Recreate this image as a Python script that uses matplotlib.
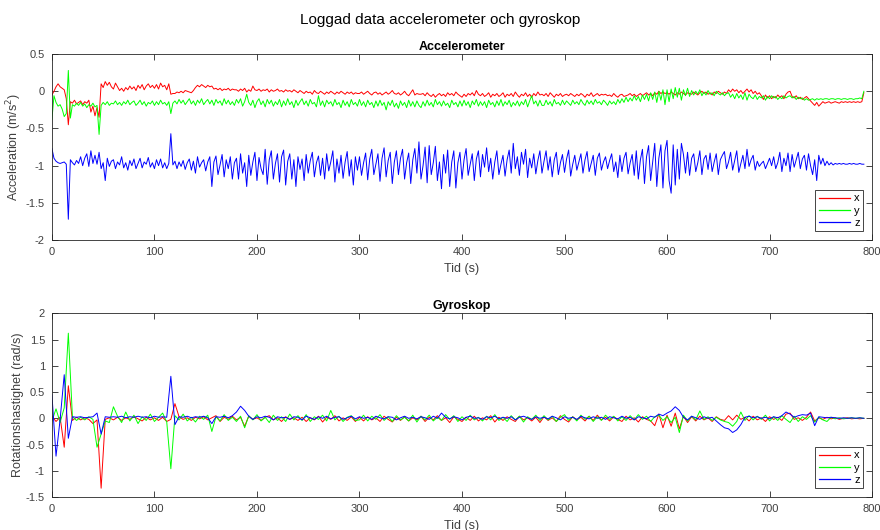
import matplotlib
matplotlib.use("Agg")
import matplotlib.pyplot as plt
from matplotlib.lines import Line2D
import numpy as np

plt.rcParams['font.family'] = ['Liberation Sans', 'DejaVu Sans']

# time grids (s)
t_acc = np.arange(0, 793, 2)
t_gyr = np.arange(0, 793, 4)

# accelerometer, hundredths of m/s^2 (one row = 60 s)
acc_x = [
    -5, 0, 6, 10, 6, 4, 2, -10, -45, -14, -16, -12, -17, -15, -13, -18, -14, -16, -12, -28, -20, -33, -22, -35, 10, 5, 13, 8, 12, 6,
    3, 11, 6, 1, 4, 0, 5, 2, 7, 3, 6, 1, 8, 4, 9, 2, 7, 10, 5, 8, 4, 9, 3, 11, 6, 8, 2, 10, -4, -3,
    -3, -1, -2, 0, -2, 1, 0, -1, -2, 1, 5, 8, 6, 9, 7, 5, 8, 6, 7, 3, 4, 2, 4, 1, 3, 2, 4, 1, 3, 2,
    2, 0, 3, 1, 4, -1, 2, 0, 7, 2, 1, 3, 0, 2, 1, 3, -1, 2, 0, 1, 3, 0, 1, -1, 2, 0, 1, -1, 2, 0,
    -2, 1, -1, -3, 0, -2, -1, -4, 1, -2, -3, 0, -2, -4, -1, -3, 0, -2, -4, -1, -3, 0, -2, -4, -1, -3, -1, -4, -2, -3,
    -3, -1, -4, -2, 0, -3, -5, -2, -1, -4, -2, -5, -3, -1, -4, -2, 1, -3, -4, -2, -5, -3, 0, -4, -6, -2, 2, -5, -3, -4,
    -4, -3, -6, -2, -5, -7, -4, -8, -5, -3, -6, -4, -7, -2, -5, -3, -6, -1, -4, -6, -8, -4, -7, -3, -5, -2, -6, 1, -4, -6,
    -3, -7, -5, -2, -8, -4, -6, -3, -7, -5, -2, -8, -4, -6, -3, -7, -1, -5, -8, -4, -6, -2, -7, -4, -8, -3, -6, -1, -5, -4,
    -6, -3, -7, -2, -5, -8, -4, -6, -3, -7, -5, -4, -6, -3, -5, -7, -4, -6, -3, -5, -8, -4, -6, -2, -7, -5, -3, -6, -4, -5,
    -4, -6, -5, -7, -3, -6, -8, -5, -4, -7, -6, -5, -3, -6, -4, -7, -5, -3, -6, -4, -2, -5, -3, -6, -2, -4, 0, -3, -1, -3,
    -2, -4, -1, -3, -5, -2, -4, -1, -3, -5, -2, -3, -4, -1, -3, -5, -2, 0, -3, -1, -4, -2, -5, -1, -3, 0, -2, -4, -1, -3,
    2, -1, 3, 0, 2, -2, 1, -3, 0, 3, -1, 2, -3, 0, -4, -2, -6, -11, -5, -9, -6, -10, -7, -9, -5, -8, -6, -10, -4, -1,
    0, -7, -9, -6, -10, -8, -11, -9, -7, -10, -13, -16, -19, -15, -20, -17, -14, -16, -15, -14, -16, -15, -14, -15, -16, -14, -15, -14, -15, -14,
    -15, -14, -15, -14, -15, -14, -2,
]
acc_y = [
    -38, -6, -15, -20, -18, -24, -34, -30, 28, -36, -18, -20, -16, -19, -15, -20, -17, -22, -18, -20, -16, -21, -19, -58, -19, -15, -18, -14, -19, -16,
    -17, -13, -18, -15, -19, -14, -17, -12, -18, -15, -13, -19, -16, -12, -18, -14, -20, -15, -17, -13, -19, -14, -18, -12, -17, -15, -19, -14, -30, -16,
    -13, -17, -11, -16, -12, -18, -14, -10, -17, -13, -19, -12, -16, -10, -18, -14, -11, -17, -12, -19, -11, -16, -13, -19, -10, -17, -12, -18, -14, -19,
    -11, -16, -10, -20, -14, -4, -15, -19, -12, -22, -14, -10, -18, -13, -21, -11, -17, -12, -20, -14, -18, -11, -21, -13, -19, -10, -18, -14, -22, -12,
    -19, -14, -10, -18, -13, -20, -11, -17, -15, -21, -6, -19, -13, -21, -12, -17, -14, -20, -11, -18, -15, -22, -12, -19, -14, -21, -11, -18, -15, -20,
    -11, -19, -14, -21, -12, -18, -15, -22, -13, -20, -12, -19, -15, -25, -14, -19, -12, -21, -16, -23, -13, -19, -15, -22, -12, -20, -14, -21, -13, -19,
    -22, -14, -20, -12, -19, -15, -21, -11, -18, -14, -20, -13, -19, -16, -22, -12, -18, -15, -21, -13, -20, -12, -19, -14, -22, -13, -18, -11, -20, -14,
    -19, -14, -22, -12, -18, -15, -21, -13, -19, -11, -20, -14, -18, -12, -21, -15, -19, -13, -20, -14, -18, -11, -21, -13, -6, -17, -13, -20, -12, -19,
    -19, -12, -18, -14, -20, -11, -17, -15, -19, -12, -18, -13, -16, -19, -12, -17, -14, -18, -11, -16, -19, -12, -17, -13, -18, -11, -16, -14, -18, -12,
    -15, -19, -13, -17, -14, -18, -11, -16, -10, -15, -8, -14, -9, -13, -6, -12, -7, -14, -5, -11, -4, -13, -2, -11, -1, -15, 0, -12, 2, -18,
    2, -14, 3, -10, 5, -8, 4, -12, 2, -6, 4, -7, 1, -5, 0, -4, 2, -6, -1, -5, 1, -4, -2, -6, 0, -3, -5, -2, -6, -3,
    -2, -8, -4, -10, -3, -9, -5, -11, -2, -12, -4, -8, -10, -5, -11, -7, -9, -6, -12, -7, -10, -6, -9, -7, -11, -8, -10, -6, -9, -7,
    -6, -9, -7, -11, -8, -10, -9, -12, -10, -12, -11, -10, -12, -10, -11, -10, -11, -10, -10, -11, -10, -10, -11, -10, -10, -11, -10, -10, -11, -10,
    -10, -11, -10, -10, -9, -10, 0,
]
acc_z = [
    -77, -90, -94, -96, -97, -96, -95, -98, -172, -92, -96, -99, -93, -97, -88, -100, -90, -84, -101, -80, -97, -86, -98, -82, -104, -96, -120, -90, -101, -94,
    -92, -104, -95, -99, -88, -103, -96, -106, -93, -100, -91, -104, -97, -90, -103, -95, -98, -89, -102, -96, -104, -92, -100, -91, -103, -96, -104, -97, -57, -99,
    -94, -104, -95, -101, -93, -105, -96, -91, -106, -94, -110, -88, -102, -96, -92, -107, -95, -88, -128, -95, -87, -112, -99, -85, -115, -92, -104, -88, -118, -96,
    -90, -118, -84, -110, -96, -128, -86, -113, -95, -82, -120, -89, -104, -112, -78, -125, -92, -80, -118, -97, -84, -122, -88, -79, -126, -94, -84, -118, -92, -128,
    -88, -105, -91, -120, -85, -110, -93, -82, -115, -96, -87, -113, -90, -118, -84, -107, -95, -80, -122, -91, -110, -86, -117, -95, -81, -114, -92, -126, -88, -106,
    -88, -113, -96, -83, -119, -91, -78, -112, -98, -84, -121, -90, -76, -115, -93, -82, -124, -95, -80, -112, -90, -78, -118, -96, -83, -124, -92, -77, -110, -68,
    -118, -100, -75, -123, -73, -112, -96, -74, -120, -95, -131, -85, -110, -79, -128, -95, -80, -130, -96, -82, -118, -92, -77, -113, -98, -84, -120, -91, -80, -115,
    -85, -102, -76, -108, -90, -118, -95, -80, -112, -98, -86, -114, -92, -79, -110, -70, -104, -88, -113, -82, -98, -78, -116, -90, -103, -84, -111, -93, -80, -110,
    -94, -80, -106, -88, -115, -92, -82, -112, -96, -85, -109, -91, -79, -114, -98, -86, -106, -95, -84, -110, -92, -81, -108, -97, -86, -113, -90, -83, -106, -95,
    -88, -104, -93, -84, -108, -95, -116, -86, -108, -90, -82, -111, -96, -85, -113, -80, -118, -92, -78, -124, -88, -73, -120, -95, -70, -128, -90, -72, -130, -80,
    -66, -120, -137, -72, -126, -78, -118, -70, -85, -110, -82, -113, -90, -84, -108, -96, -80, -112, -91, -86, -105, -83, -108, -95, -84, -112, -92, -86, -81, -104,
    -95, -82, -106, -93, -80, -109, -97, -86, -104, -78, -101, -92, -86, -106, -94, -101, -97, -94, -104, -97, -90, -100, -88, -104, -96, -82, -108, -90, -100, -83,
    -108, -85, -102, -92, -82, -104, -91, -86, -106, -84, -100, -112, -92, -120, -86, -98, -90, -100, -94, -99, -96, -99, -97, -98, -97, -98, -97, -98, -98, -97,
    -98, -97, -98, -98, -97, -98, -98,
]

# gyroscope, hundredths of rad/s (one row = 60 s)
gyr_x = [
    4, -6, 2, -55, 62, -4, 2, -3, 1, -2, -10, -3, -133, -2, 1,
    -3, 2, -4, 1, -2, 3, -1, -5, 2, -3, 1, -4, 2, -6, -2,
    28, 3, -2, 1, -4, 2, -1, 3, -3, 1, 5, -6, 2, -2, 4,
    -3, 2, -15, 4, -2, 1, -4, 2, 5, -3, 1, -6, 3, -2, 1,
    -4, 2, -6, 1, -3, 4, -7, 2, -2, 5, -5, 1, -4, 3, -6,
    2, -5, 3, -3, 1, -6, 4, -2, -7, 2, -4, 3, -5, 1, -3,
    4, -6, 2, -3, 5, -4, 1, -8, 3, -2, -6, 2, -4, 4, -5,
    1, -3, 5, -7, 2, -4, 3, -2, -6, 4, -3, 1, -5, 2, -8,
    3, -4, 1, -6, 5, -2, -7, 3, -3, 2, -5, 4, -4, 6, -3,
    2, -5, 3, -2, -6, 4, -3, 1, -7, 3, -2, -5, -14, 8, -18,
    6, -15, 10, -20, 4, -8, 3, -5, 4, -3, 1, -6, 3, -2, -4,
    5, -3, 6, -2, 2, -5, 4, -3, 1, -6, 3, -2, 2, -4, 8,
    10, -2, 1, -4, 2, 12, -5, 1, -2, 2, -1, 1, -2, 0, 1,
    -1, 0, -1, 0,
]
gyr_y = [
    -5, 18, -8, 20, 162, 3, -4, 2, -3, 3, -2, -55, -30, -5, -8,
    22, 4, -8, 12, -5, 6, -10, 3, -4, 8, -6, 2, 10, -7, -96,
    5, -3, 8, -5, 2, -7, 4, -2, 6, -25, 3, -5, 7, -4, 2,
    -6, 4, -18, 5, -3, 7, -5, 2, -8, 6, -4, 3, -6, 8, -3,
    5, -4, 7, -6, 3, -2, 6, -5, 15, -3, 4, -6, 2, 5, -4,
    -3, 6, -5, 4, -2, 7, -4, 3, -6, 5, -3, 2, -5, 6, -7,
    4, -3, 6, -5, 2, -4, 7, -2, 5, -6, 3, -4, 6, -3, 2,
    -5, 4, -3, 7, -4, 2, -6, 5, -3, 4, -7, 3, -2, 6, -4,
    5, -3, 4, -6, 2, 7, -4, 3, -5, 6, -2, 4, -6, 3, -4,
    6, -2, 4, -5, 3, -4, 5, -3, 7, -2, 4, -6, 3, 6, -4,
    3, -8, 2, -27, 6, -5, 4, -3, 14, -2, 3, -4, 2, -3, -6,
    -8, -15, -6, 12, -4, 5, -3, 4, -2, 6, -5, 3, -4, 5, -2,
    -8, 4, -6, 3, -2, 5, -7, 2, -3, -6, 2, -1, 1, -1, 0,
    1, 0, 1, 0,
]
gyr_z = [
    45, -72, -2, 83, -38, 3, 2, 3, 1, 2, 3, 10, -30, 3, 2,
    3, 2, 4, 1, 3, 2, 4, 2, 3, 1, 4, 2, 3, 2, 80,
    -12, 3, 2, 4, 1, 3, 2, 4, 1, -10, 3, 2, 4, 1, 5,
    12, 23, 15, 4, -2, 3, 1, 4, 2, -3, 3, 1, 2, -2, 3,
    2, -3, 4, 1, -2, 3, 0, 4, -1, 2, 3, -2, 1, 4, -1,
    3, 0, 2, -2, 4, 1, -1, 3, 2, -3, 1, 4, 0, 2, -1,
    3, 1, -2, 4, 0, 10, 2, -1, 3, 1, -3, 2, 4, 0, 1,
    -2, 3, 1, 4, -1, 2, 0, 3, -3, 2, 4, 1, -2, 3, 0,
    2, -1, 4, 1, -3, 3, 0, 2, -2, 4, 1, -1, 3, 0, 2,
    -2, 3, 1, -1, 4, 0, 2, -3, 3, 1, -1, 4, 2, 8, 5,
    10, 14, 22, 15, 2, -3, 4, 1, -2, 3, 0, 2, -5, -12, -18,
    -20, -27, -22, -12, 2, 4, 1, 3, 0, 2, -1, 3, 1, 5, 12,
    8, 2, 5, 7, 6, 10, -14, 3, 2, 1, 2, 1, 0, 1, 0,
    1, 0, 1, 0,
]

labels = ['x', 'y', 'z']
colors = ['#ff0000', '#00ff00', '#0000ff']

fig = plt.figure(figsize=(8.8, 5.3), dpi=100)
ax1 = fig.add_axes([0.059, 0.547, 0.932, 0.351])
ax2 = fig.add_axes([0.059, 0.062, 0.932, 0.347])

grey = '#262626'
txt = '#404040'

for ax, t, series in [(ax1, t_acc, [acc_x, acc_y, acc_z]),
                      (ax2, t_gyr, [gyr_x, gyr_y, gyr_z])]:
    for s, c in zip(series, colors):
        ax.plot(t, np.array(s) / 100.0, color=c, lw=0.7)
    ax.set_xlim(0, 800)
    ax.tick_params(direction='in', top=True, right=True, labelsize=8,
                   labelcolor=txt, color=grey, length=4, width=0.6, pad=5)
    for sp in ax.spines.values():
        sp.set_color(grey)
        sp.set_linewidth(0.6)
    ax.set_xlabel('Tid (s)', fontsize=9, color=txt, labelpad=4)
    # legend proxies so both boxes carry the line colours
    proxies = [Line2D([0], [0], color=c, lw=0.9) for c in colors]
    leg = ax.legend(proxies, labels, loc='lower right', fontsize=8,
                    handlelength=2.8, fancybox=False, framealpha=1,
                    borderpad=0.3, labelspacing=0.2, handletextpad=0.4,
                    borderaxespad=0.8)
    leg.get_frame().set_edgecolor(grey)
    leg.get_frame().set_linewidth(0.6)

ax1.set_ylim(-2, 0.5)
ax1.set_yticks([-2, -1.5, -1, -0.5, 0, 0.5])
ax1.set_yticklabels(['-2', '-1.5', '-1', '-0.5', '0', '0.5'])
ax1.set_title('Accelerometer', fontsize=9, fontweight='bold', pad=3)
ax1.set_ylabel('Acceleration (m/s$^2$)', fontsize=9, color=txt, labelpad=1)

ax2.set_ylim(-1.5, 2)
ax2.set_yticks([-1.5, -1, -0.5, 0, 0.5, 1, 1.5, 2])
ax2.set_yticklabels(['-1.5', '-1', '-0.5', '0', '0.5', '1', '1.5', '2'])
ax2.set_title('Gyroskop', fontsize=9, fontweight='bold', pad=3)
ax2.set_ylabel('Rotationshastighet (rad/s)', fontsize=9, color=txt, labelpad=1)

fig.suptitle('Loggad data accelerometer och gyroskop', fontsize=11, y=0.975)

fig.savefig('out.png', dpi=100)
